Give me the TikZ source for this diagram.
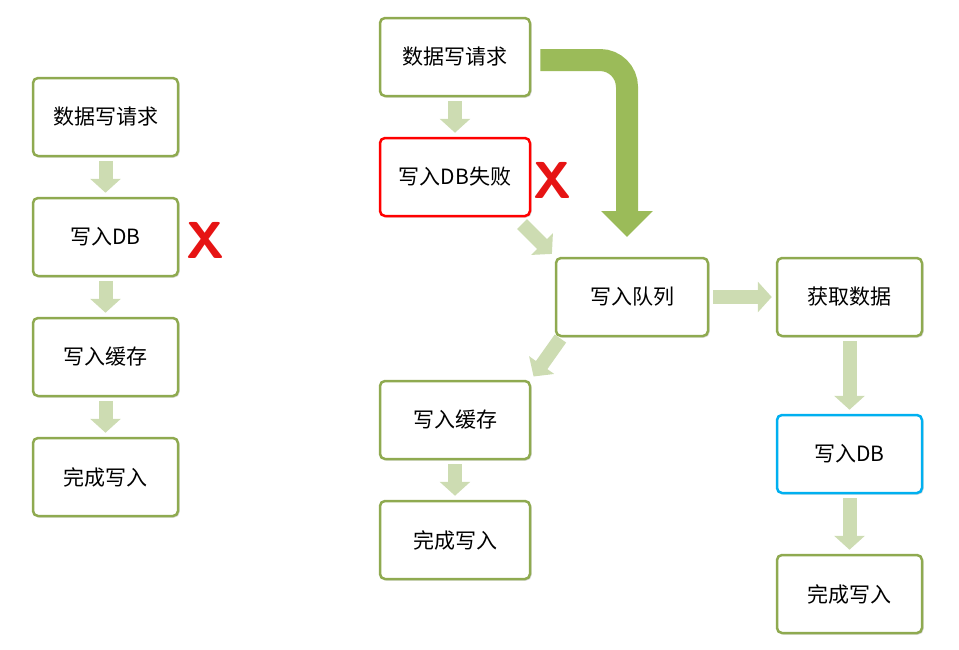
\documentclass[tikz,border=0pt]{standalone}
\usepackage{fontspec}
\setmainfont{Noto Sans CJK SC}
\usetikzlibrary{arrows.meta,positioning,shadows}
\definecolor{boxgreen}{RGB}{143,170,80}
\definecolor{arrgreen}{RGB}{205,220,178}
\definecolor{biggreen}{RGB}{155,187,89}
\definecolor{xred}{RGB}{230,20,20}
\tikzset{
  stepbox/.style={draw=boxgreen,line width=2.5pt,fill=white,rounded corners=5pt,
    minimum width=145pt,minimum height=78pt,font=\fontsize{21}{24}\selectfont,
    drop shadow={shadow xshift=1.5pt,shadow yshift=-1.5pt,opacity=0.3}},
  flowarr/.style={draw=arrgreen,line width=14pt,
    -{Triangle[length=14pt,width=30pt]},shorten <=4pt,shorten >=4pt},
  failmark/.style={text=xred,font=\fontsize{52}{52}\sffamily\bfseries}
}
\begin{document}
\begin{tikzpicture}[x=1pt,y=1pt,yscale=-1]
\useasboundingbox (0,0) rectangle (959,649);
% left column
\node[stepbox] (req1) at (105.5,117) {数据写请求};
\node[stepbox] (db1) at (105.5,237) {写入DB};
\node[stepbox] (cache1) at (105.5,357) {写入缓存};
\node[stepbox] (done1) at (105.5,477) {完成写入};
\node[failmark] (x1) at (206,240) {X};
\draw[flowarr] (req1) -- (db1);
\draw[flowarr] (db1) -- (cache1);
\draw[flowarr] (cache1) -- (done1);
% middle column
\node[stepbox,minimum width=150pt] (req2) at (455,57) {数据写请求};
\node[stepbox,minimum width=150pt,draw=red] (dbfail) at (455,177) {写入DB失败};
\node[failmark] (x2) at (553,180) {X};
\node[stepbox,minimum width=152pt] (queue) at (632,297) {写入队列};
\node[stepbox,minimum width=150pt] (cache2) at (455,420) {写入缓存};
\node[stepbox,minimum width=150pt] (done2) at (455,540) {完成写入};
\draw[flowarr] (req2) -- (dbfail);
\draw[flowarr] (dbfail.south east) ++(-12,4) coordinate (c1) -- (queue.north west);
\draw[flowarr] (queue.south west) ++(8,-2) coordinate (c2) -- (cache2.north east);
\draw[flowarr] (cache2) -- (done2);
% right column
\node[stepbox] (fetch) at (849.5,297) {获取数据};
\node[stepbox,draw={rgb,255:red,0;green,176;blue,240}] (db2) at (849.5,454) {写入DB};
\node[stepbox] (done3) at (849.5,594) {完成写入};
\draw[flowarr] (queue) -- (fetch);
\draw[flowarr] (fetch) -- (db2);
\draw[flowarr] (db2) -- (done3);
% bent arrow
\coordinate (bend) at (627,240);
\draw[draw=white,line width=26pt,-{Triangle[length=30pt,width=56pt]}]
  (req2.east) ++(8,3) -- (600,60) arc[start angle=-90,end angle=0,radius=27] -- (bend);
\draw[draw=biggreen,line width=22pt,-{Triangle[length=26pt,width=50pt]}]
  (req2.east) ++(9,3) -- (600,60) arc[start angle=-90,end angle=0,radius=27] -- ([yshift=-3]bend);
\end{tikzpicture}
\end{document}
